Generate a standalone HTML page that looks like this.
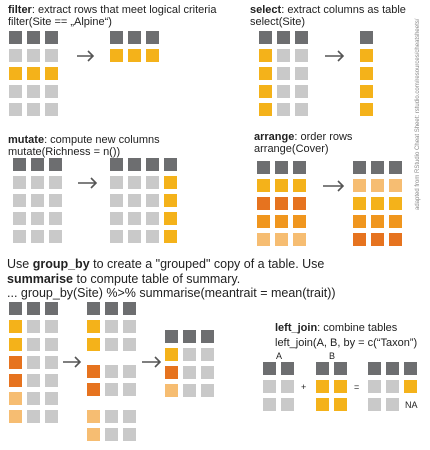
<!DOCTYPE html>
<html><head><meta charset="utf-8"><style>
html,body{margin:0;padding:0;background:#fff;width:430px;height:450px;overflow:hidden}
svg text{font-family:"Liberation Sans",sans-serif;fill:#222}
</style></head><body>
<svg id="s" width="430" height="450" viewBox="0 0 430 450">
<g font-size="11">
<text x="8" y="13"><tspan font-weight="bold">filter</tspan>: extract rows that meet logical criteria</text>
<text x="8" y="25">filter(Site == „Alpine“)</text>
<text x="250" y="13"><tspan font-weight="bold">select</tspan>: extract columns as table</text>
<text x="250" y="25">select(Site)</text>
<text x="8" y="143"><tspan font-weight="bold">mutate</tspan>: compute new columns</text>
<text x="8" y="155">mutate(Richness = n())</text>
<text x="254" y="140"><tspan font-weight="bold">arrange</tspan>: order rows</text>
<text x="254" y="152">arrange(Cover)</text>
<text x="275" y="331"><tspan font-weight="bold">left_join</tspan>: combine tables</text>
<text x="275" y="346">left_join(A, B, by = c(“Taxon”)</text>
</g>
<g font-size="12.5">
<text x="7" y="268">Use <tspan font-weight="bold">group_by</tspan> to create a "grouped" copy of a table. Use</text>
<text x="7" y="283"><tspan font-weight="bold">summarise</tspan> to compute table of summary.</text>
<text x="7" y="297">... group_by(Site) %&gt;% summarise(meantrait = mean(trait))</text>
</g>
<g font-size="9">
<text x="276" y="359">A</text>
<text x="329" y="359">B</text>
<text x="301" y="390">+</text>
<text x="354" y="390">=</text>
<text x="405" y="408">NA</text>
</g>
<text transform="translate(419,210) rotate(-90)" font-size="6" style="fill:#888">adapted from RStudio Cheat Sheet: rstudio.com/resources/cheatsheets/</text>
<g id="cells"></g>
<g id="arrows" stroke="#555" stroke-width="1.6" fill="none"></g>
</svg>
<script>
const C={D:'#6d6e70',G:'#c9c9c9',Y:'#f4b21a',O:'#e6731f',M:'#f0961e',L:'#f6bd72'};
const grids=[
['filter-input',9,31,['DDD','GGG','YYY','GGG','GGG']],
['filter-output',110,31,['DDD','YYY']],
['select-input',259,31,['DDD','YGG','YGG','YGG','YGG']],
['select-output',360,31,['D','Y','Y','Y','Y']],
['mutate-input',13,158,['DDD','GGG','GGG','GGG','GGG']],
['mutate-output',110,158,['DDDD','GGGY','GGGY','GGGY','GGGY']],
['arrange-input',257,161,['DDD','YYY','OOO','MMM','LLL']],
['arrange-output',353,161,['DDD','LLL','YYY','MMM','OOO']],
['groupby-input',9,302,['DDD','YGG','YGG','OGG','OGG','LGG','LGG']],
['groupby-output',87,302,['DDD','YGG','YGG','','OGG','OGG','','LGG','LGG'],[0,18,36,0,63,81,0,108,126]],
['summarise-output',165,330,['DDD','YGG','OGG','LGG']],
['join-a',263,362,['DD','GG','GG']],
['join-b',316,362,['DD','YY','YY']],
['join-result',368,362,['DDD','GGY','GG']]
];
const arrows=[[77,56,93],[325,56,343],[78,183,96],[323,186,343],[63,362,80],[142,362,160]];
const cg=document.getElementById('cells');const ns='http://www.w3.org/2000/svg';
grids.forEach(g=>{const grp=document.createElementNS(ns,'g');


g[3].forEach((row,r)=>{const yy=g[2]+(g[4]?g[4][r]:r*18);
[...row].forEach((ch,c)=>{const e=document.createElementNS(ns,'rect');
e.setAttribute('x',g[1]+c*18);e.setAttribute('y',yy);e.setAttribute('width',13);e.setAttribute('height',13);e.setAttribute('fill',C[ch]);


grp.appendChild(e);});});cg.appendChild(grp);});
const ag=document.getElementById('arrows');
arrows.forEach(a=>{const p=document.createElementNS(ns,'path');
p.setAttribute('d',`M${a[0]} ${a[1]}H${a[2]}M${a[2]-5} ${a[1]-5}L${a[2]} ${a[1]}L${a[2]-5} ${a[1]+5}`);


ag.appendChild(p);});
</script>
</body></html>
